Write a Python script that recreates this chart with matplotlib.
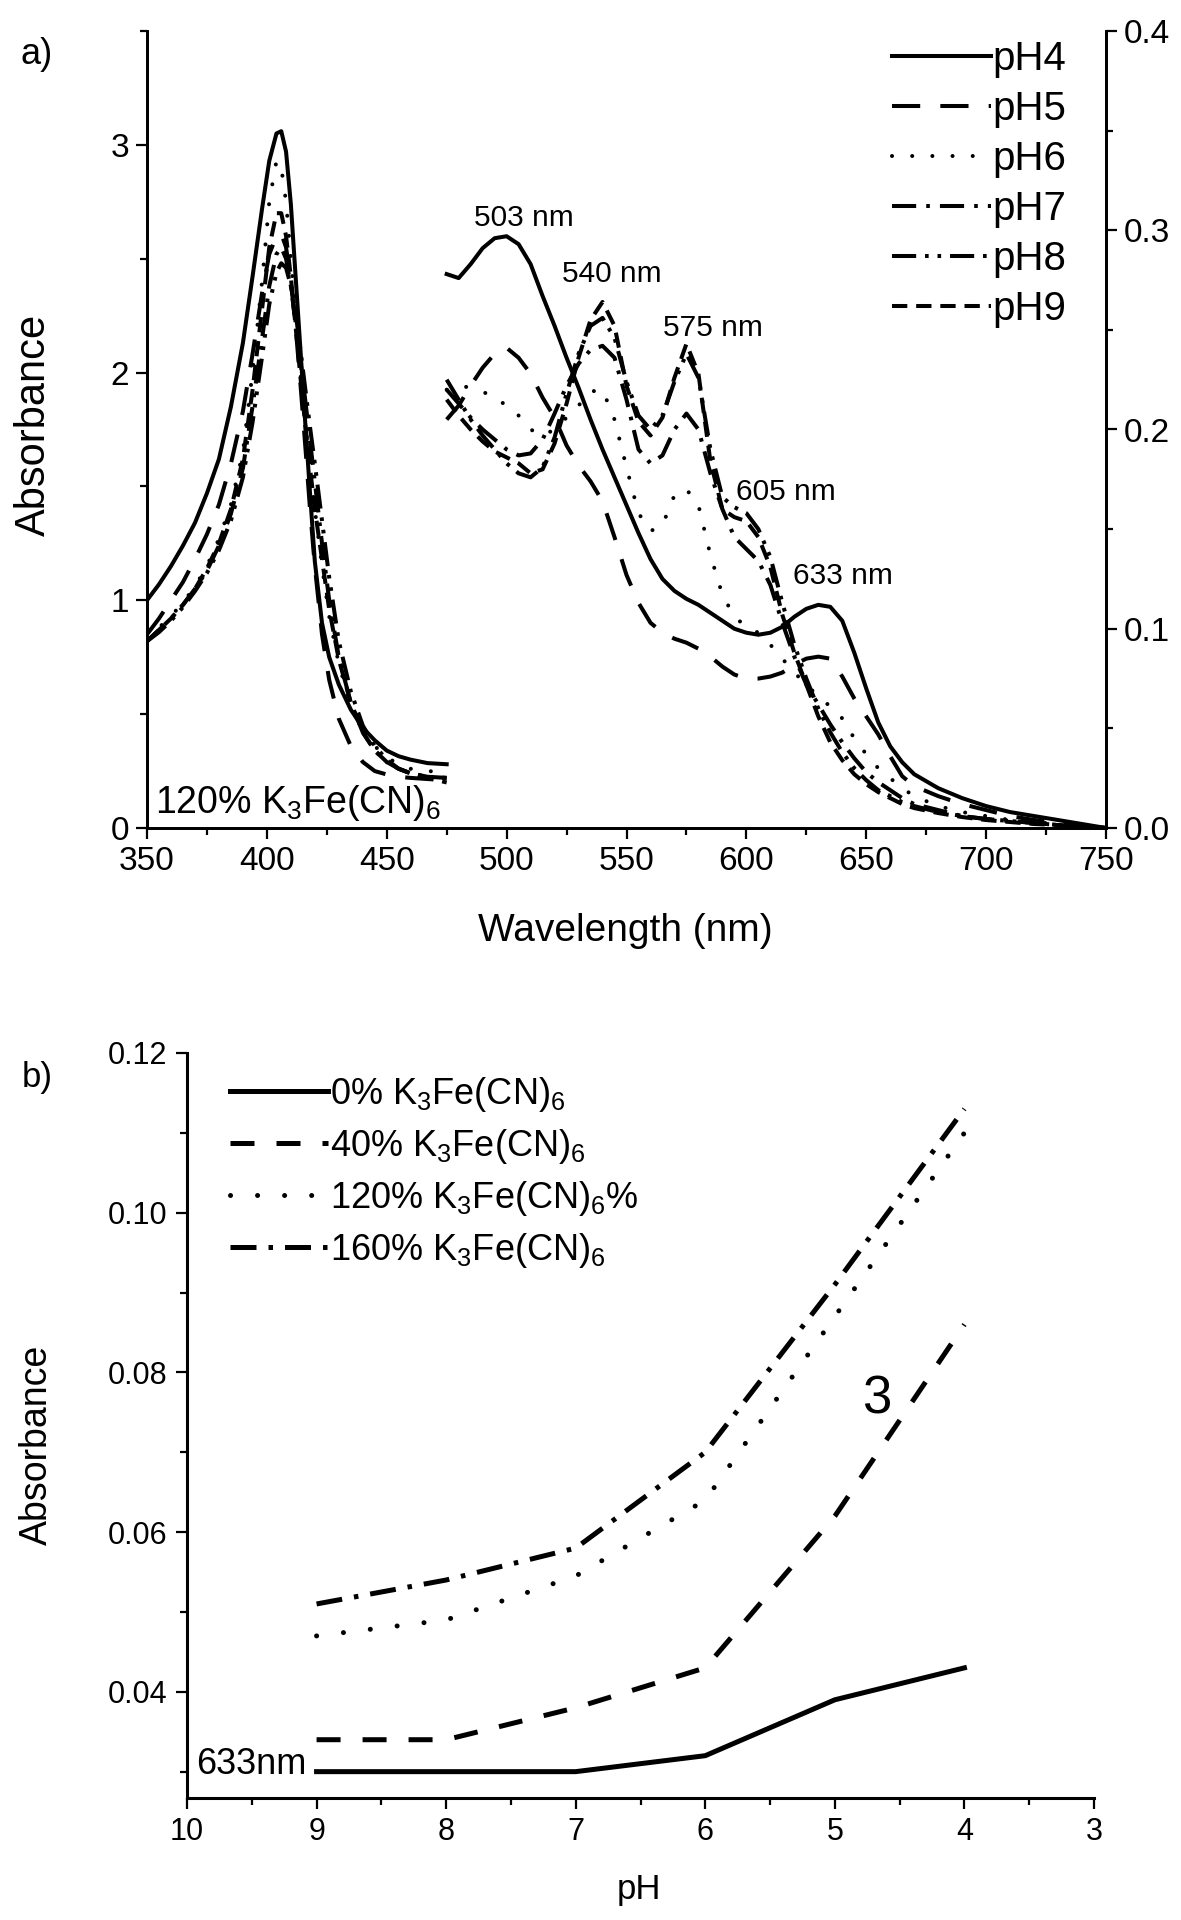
import matplotlib
matplotlib.use("Agg")
import matplotlib.pyplot as plt
from matplotlib.ticker import MultipleLocator

plt.rcParams['font.family'] = ['Liberation Sans', 'DejaVu Sans']
plt.rcParams['mathtext.fontset'] = 'custom'
plt.rcParams['mathtext.rm'] = 'Liberation Sans'
plt.rcParams['mathtext.it'] = 'Liberation Sans:italic'
plt.rcParams['mathtext.default'] = 'regular'

# ---------------- data: panel a ----------------
ph_labels = ['pH4', 'pH5', 'pH6', 'pH7', 'pH8', 'pH9']

wl_left = [350, 355, 360, 365, 370, 375, 380, 385, 390, 394, 398, 401, 404, 406,
           408, 410, 412, 414, 416, 418, 420, 423, 426, 430, 435, 440, 445, 450,
           455, 460, 467, 475]
abs_left_pH4 = [1.00, 1.07, 1.15, 1.24, 1.34, 1.47, 1.62, 1.85, 2.13, 2.42, 2.72, 2.93, 3.05, 3.06,
                2.97, 2.74, 2.42, 2.10, 1.78, 1.47, 1.17, 0.90, 0.75, 0.63, 0.52, 0.44, 0.385, 0.34,
                0.315, 0.30, 0.285, 0.28]
abs_left_pH5 = [0.85, 0.92, 1.00, 1.08, 1.18, 1.29, 1.42, 1.60, 1.83, 2.08, 2.35, 2.52, 2.60, 2.61,
                2.55, 2.40, 2.20, 1.95, 1.68, 1.40, 1.15, 0.85, 0.65, 0.48, 0.36, 0.29, 0.25, 0.235,
                0.225, 0.22, 0.215, 0.21]
abs_left_pH6 = [0.83, 0.88, 0.93, 0.99, 1.06, 1.15, 1.27, 1.42, 1.65, 2.00, 2.40, 2.75, 2.93, 2.90,
                2.75, 2.50, 2.25, 2.00, 1.78, 1.58, 1.40, 1.15, 0.93, 0.72, 0.54, 0.43, 0.36, 0.31,
                0.28, 0.26, 0.25, 0.245]
abs_left_pH7 = [0.82, 0.87, 0.92, 0.98, 1.05, 1.13, 1.24, 1.38, 1.58, 1.85, 2.15, 2.38, 2.52, 2.55,
                2.50, 2.38, 2.22, 2.05, 1.88, 1.70, 1.52, 1.25, 1.00, 0.75, 0.55, 0.42, 0.34, 0.29,
                0.26, 0.24, 0.225, 0.22]
abs_left_pH8 = [0.82, 0.86, 0.91, 0.97, 1.04, 1.12, 1.22, 1.35, 1.54, 1.78, 2.07, 2.30, 2.44, 2.48,
                2.46, 2.38, 2.26, 2.10, 1.93, 1.76, 1.60, 1.35, 1.10, 0.82, 0.60, 0.45, 0.36, 0.30,
                0.26, 0.24, 0.22, 0.20]
abs_left_pH9 = [0.82, 0.87, 0.92, 0.98, 1.05, 1.14, 1.25, 1.40, 1.62, 1.92, 2.28, 2.55, 2.70, 2.70,
                2.60, 2.42, 2.20, 1.98, 1.77, 1.58, 1.40, 1.18, 0.96, 0.74, 0.55, 0.42, 0.34, 0.29,
                0.26, 0.24, 0.225, 0.22]

wl_right = [475, 480, 485, 490, 495, 500, 505, 510, 515, 520, 525, 530, 535, 540, 545, 550,
            555, 560, 565, 570, 575, 580, 585, 590, 595, 600, 605, 610, 615, 620, 625, 630,
            635, 640, 645, 650, 655, 660, 665, 670, 680, 690, 700, 710, 720, 730, 740, 750]
abs_right_pH4 = [0.278, 0.276, 0.283, 0.291, 0.296, 0.297, 0.293, 0.283, 0.267, 0.252, 0.236, 0.221,
                 0.205, 0.190, 0.176, 0.162, 0.148, 0.135, 0.125, 0.119, 0.115, 0.112, 0.108, 0.104,
                 0.100, 0.098, 0.097, 0.098, 0.101, 0.106, 0.110, 0.112, 0.111, 0.104, 0.088, 0.070,
                 0.053, 0.041, 0.033, 0.027, 0.020, 0.015, 0.011, 0.008, 0.006, 0.004, 0.002, 0.0]
abs_right_pH5 = [0.205, 0.212, 0.222, 0.231, 0.238, 0.241, 0.236, 0.228, 0.216, 0.206, 0.192, 0.182,
                 0.174, 0.164, 0.146, 0.127, 0.113, 0.103, 0.098, 0.095, 0.093, 0.090, 0.086, 0.081,
                 0.077, 0.075, 0.075, 0.076, 0.078, 0.082, 0.085, 0.086, 0.085, 0.076, 0.065, 0.056,
                 0.047, 0.036, 0.026, 0.021, 0.016, 0.012, 0.009, 0.006, 0.004, 0.003, 0.001, 0.0]
abs_right_pH6 = [0.220, 0.222, 0.221, 0.219, 0.216, 0.212, 0.207, 0.200, 0.197, 0.200, 0.206, 0.212,
                 0.219, 0.220, 0.205, 0.181, 0.158, 0.149, 0.152, 0.167, 0.170, 0.162, 0.137, 0.117,
                 0.106, 0.101, 0.098, 0.092, 0.085, 0.078, 0.072, 0.066, 0.061, 0.055, 0.045, 0.037,
                 0.030, 0.025, 0.020, 0.016, 0.011, 0.008, 0.006, 0.004, 0.003, 0.002, 0.001, 0.0]
abs_right_pH7 = [0.220, 0.213, 0.206, 0.200, 0.195, 0.190, 0.187, 0.188, 0.195, 0.208, 0.222, 0.233,
                 0.240, 0.242, 0.236, 0.215, 0.190, 0.183, 0.187, 0.200, 0.208, 0.200, 0.178, 0.160,
                 0.146, 0.140, 0.134, 0.122, 0.103, 0.086, 0.072, 0.062, 0.052, 0.043, 0.035, 0.028,
                 0.023, 0.019, 0.015, 0.012, 0.009, 0.006, 0.0045, 0.0035, 0.0025, 0.0015, 0.001, 0.0]
abs_right_pH8 = [0.225, 0.215, 0.205, 0.197, 0.190, 0.183, 0.178, 0.176, 0.181, 0.196, 0.218, 0.238,
                 0.252, 0.256, 0.246, 0.224, 0.207, 0.200, 0.207, 0.224, 0.238, 0.226, 0.190, 0.166,
                 0.161, 0.158, 0.150, 0.136, 0.113, 0.092, 0.075, 0.060, 0.048, 0.038, 0.030, 0.024,
                 0.019, 0.016, 0.013, 0.011, 0.008, 0.006, 0.0045, 0.0035, 0.0025, 0.0015, 0.001, 0.0]
abs_right_pH9 = [0.215, 0.207, 0.200, 0.194, 0.189, 0.186, 0.183, 0.178, 0.180, 0.193, 0.213, 0.236,
                 0.255, 0.264, 0.252, 0.222, 0.204, 0.197, 0.206, 0.226, 0.243, 0.228, 0.184, 0.160,
                 0.156, 0.154, 0.146, 0.131, 0.107, 0.088, 0.072, 0.056, 0.043, 0.034, 0.027, 0.022,
                 0.018, 0.015, 0.012, 0.010, 0.0075, 0.0055, 0.004, 0.003, 0.002, 0.0015, 0.001, 0.0]

peak_labels = ['503 nm', '540 nm', '575 nm', '605 nm', '633 nm']

# ---------------- data: panel b ----------------
ph_values = [9, 8, 7, 6, 5, 4]
conc_labels = [r'0% K$_3$Fe(CN)$_6$', r'40% K$_3$Fe(CN)$_6$',
               r'120% K$_3$Fe(CN)$_6$%', r'160% K$_3$Fe(CN)$_6$']
abs633_0 = [0.030, 0.030, 0.030, 0.032, 0.039, 0.043]
abs633_40 = [0.034, 0.034, 0.038, 0.043, 0.062, 0.086]
abs633_120 = [0.047, 0.049, 0.0545, 0.064, 0.087, 0.110]
abs633_160 = [0.051, 0.054, 0.058, 0.070, 0.091, 0.113]

# ---------------- figure ----------------
W, H = 1181, 1920
fig = plt.figure(figsize=(W / 100, H / 100), dpi=100)


def fx(px):
    return px / W


def fy(py):
    return 1 - py / H


# styles (line width in points)
lw_a = 2.9
styles_a = [
    dict(linestyle='-'),
    dict(linestyle=(0, (7, 5))),
    dict(linestyle=(0, (0.01, 5)), dash_capstyle='round'),
    dict(linestyle=(0, (6, 2.5, 0.9, 2.5))),
    dict(linestyle=(0, (6, 2.2, 0.9, 2.2, 0.9, 2.2))),
    dict(linestyle=(0, (3.8, 2.2))),
]

ax = fig.add_axes([fx(147), fy(828), fx(1106) - fx(147), fy(31) - fy(828)])
ax2 = ax.twinx()

left_series = [abs_left_pH4, abs_left_pH5, abs_left_pH6, abs_left_pH7, abs_left_pH8, abs_left_pH9]
right_series = [abs_right_pH4, abs_right_pH5, abs_right_pH6, abs_right_pH7, abs_right_pH8, abs_right_pH9]

handles = []
for lab, yl, yr, st in zip(ph_labels, left_series, right_series, styles_a):
    h, = ax.plot(wl_left, yl, color='black', lw=lw_a, label=lab, **st)
    ax2.plot(wl_right, yr, color='black', lw=lw_a, **st)
    handles.append(h)

ax.set_xlim(350, 750)
ax.set_ylim(0, 3.5)
ax2.set_ylim(0, 0.4)
ax.xaxis.set_major_locator(MultipleLocator(50))
ax.xaxis.set_minor_locator(MultipleLocator(25))
ax.yaxis.set_major_locator(MultipleLocator(1))
ax.yaxis.set_minor_locator(MultipleLocator(0.5))
ax2.yaxis.set_major_locator(MultipleLocator(0.1))
ax2.yaxis.set_minor_locator(MultipleLocator(0.05))
ax2.yaxis.set_major_formatter(matplotlib.ticker.FormatStrFormatter('%.1f'))

for a in (ax, ax2):
    a.spines['top'].set_visible(False)
    for s in a.spines.values():
        s.set_linewidth(2.0)
    a.tick_params(which='major', direction='out', length=8, width=1.6, labelsize=24, pad=5)
    a.tick_params(which='minor', direction='out', length=5, width=1.6)

leg = ax2.legend(handles=handles, loc='upper left',
                 bbox_to_anchor=(fx(892), fy(40)), bbox_transform=fig.transFigure,
                 frameon=False, fontsize=29, handlelength=2.45, handletextpad=0.05,
                 labelspacing=0.3, borderpad=0, borderaxespad=0)

# peak annotations
peak_pos = [(524, 218), (612, 274), (713, 328), (786, 492), (843, 576)]
for txt, (px, py) in zip(peak_labels, peak_pos):
    fig.text(fx(px), fy(py), txt, ha='center', va='center', fontsize=21.5)

fig.text(fx(155), fy(813), r'120% K$_3$Fe(CN)$_6$', ha='left', va='baseline', fontsize=27)
fig.text(fx(37), fy(55), 'a)', ha='center', va='center', fontsize=26)
fig.text(fx(34), fy(425), 'Absorbance', rotation=90, ha='center', va='center', fontsize=30)
fig.text(fx(625), fy(931), 'Wavelength (nm)', ha='center', va='center', fontsize=28)

# ---------------- panel b ----------------
bx = fig.add_axes([fx(187), fy(1798), fx(1094) - fx(187), fy(1053) - fy(1798)])
lw_b = 3.6
styles_b = [
    dict(linestyle='-'),
    dict(linestyle=(0, (4.8, 4.4))),
    dict(linestyle=(0, (0.01, 5.4)), dash_capstyle='round'),
    dict(linestyle=(0, (5.2, 2.4, 0.9, 2.4))),
]
series_b = [abs633_0, abs633_40, abs633_120, abs633_160]
hb = []
for lab, ys, st in zip(conc_labels, series_b, styles_b):
    h, = bx.plot(ph_values, ys, color='black', lw=lw_b, label=lab, **st)
    hb.append(h)

bx.set_xlim(10, 3)
bx.set_ylim(0.0267, 0.12)
bx.xaxis.set_major_locator(MultipleLocator(1))
bx.xaxis.set_minor_locator(MultipleLocator(0.5))
bx.yaxis.set_major_locator(MultipleLocator(0.02))
bx.yaxis.set_minor_locator(MultipleLocator(0.01))
bx.yaxis.set_major_formatter(matplotlib.ticker.FormatStrFormatter('%.2f'))
bx.spines['top'].set_visible(False)
bx.spines['right'].set_visible(False)
for s in bx.spines.values():
    s.set_linewidth(2.2)
bx.tick_params(which='major', direction='out', length=8, width=1.6, labelsize=22, pad=6)
bx.tick_params(which='minor', direction='out', length=5, width=1.6)

bx.legend(handles=hb, loc='upper left', bbox_to_anchor=(fx(230), fy(1075)),
          bbox_transform=fig.transFigure, frameon=False, fontsize=26,
          handlelength=2.7, handletextpad=0.08, labelspacing=0.36, borderpad=0,
          borderaxespad=0)

fig.text(fx(37), fy(1078), 'b)', ha='center', va='center', fontsize=25)
fig.text(fx(37), fy(1445), 'Absorbance', rotation=90, ha='center', va='center', fontsize=27)
fig.text(fx(639), fy(1890), 'pH', ha='center', va='center', fontsize=25)
fig.text(fx(877), fy(1400), '3', ha='center', va='center', fontsize=38)
fig.text(fx(196), fy(1765), '633nm', ha='left', va='center', fontsize=26)

fig.savefig('out.png', dpi=100)
